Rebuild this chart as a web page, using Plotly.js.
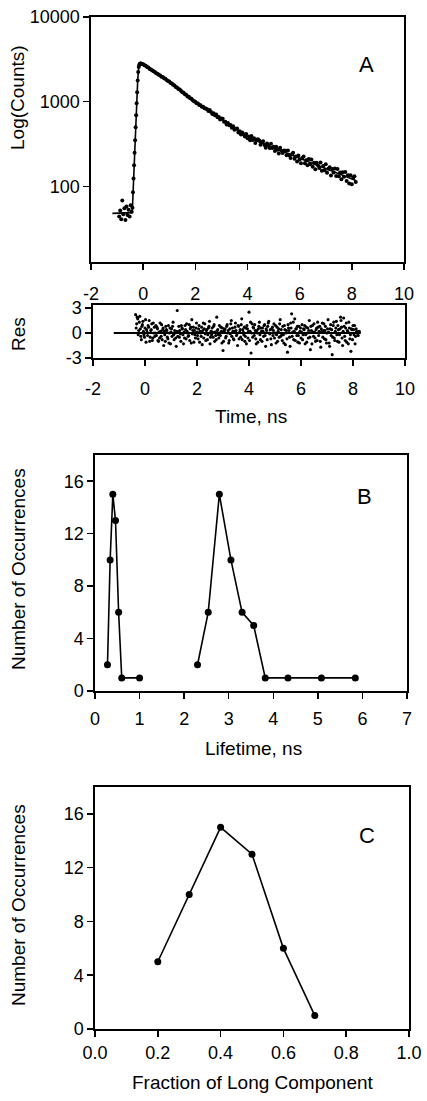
<!DOCTYPE html>
<html><head><meta charset="utf-8">
<script src="https://cdn.plot.ly/plotly-3.0.1.min.js"></script>
<style>html,body{margin:0;padding:0;background:#fff}</style>
</head><body><div id="chart" style="width:427px;height:1101px"></div>
<script>
// ---- Panel A: fluorescence decay (counts vs time, ns) ----
const DECAY_T = [
-0.92,-0.88,-0.84,-0.80,-0.76,-0.72,-0.68,-0.64,-0.60,-0.56,-0.52,-0.48,-0.44,
-0.41,-0.39,-0.37,-0.35,-0.33,-0.31,-0.29,-0.27,-0.25,-0.23,-0.21,-0.19,-0.17,-0.15,-0.13,-0.11,-0.09,-0.07,
-0.05,0,0.05,0.1,0.15,0.2,0.25,0.3,0.35,0.4,
0.45,0.5,0.55,0.6,0.65,0.7,0.75,0.8,0.85,0.9,
0.95,1,1.05,1.1,1.15,1.2,1.25,1.3,1.35,1.4,
1.45,1.5,1.55,1.6,1.65,1.7,1.75,1.8,1.85,1.9,
1.95,2,2.05,2.1,2.15,2.2,2.25,2.3,2.35,2.4,
2.45,2.5,2.55,2.6,2.65,2.7,2.75,2.8,2.85,2.9,
2.95,3,3.05,3.1,3.15,3.2,3.25,3.3,3.35,3.4,
3.45,3.5,3.55,3.6,3.65,3.7,3.75,3.8,3.85,3.9,
3.95,4,4.05,4.1,4.15,4.2,4.25,4.3,4.35,4.4,
4.45,4.5,4.55,4.6,4.65,4.7,4.75,4.8,4.85,4.9,
4.95,5,5.05,5.1,5.15,5.2,5.25,5.3,5.35,5.4,
5.45,5.5,5.55,5.6,5.65,5.7,5.75,5.8,5.85,5.9,
5.95,6,6.05,6.1,6.15,6.2,6.25,6.3,6.35,6.4,
6.45,6.5,6.55,6.6,6.65,6.7,6.75,6.8,6.85,6.9,
6.95,7,7.05,7.1,7.15,7.2,7.25,7.3,7.35,7.4,
7.45,7.5,7.55,7.6,7.65,7.7,7.75,7.8,7.85,7.9,
7.95,8,8.05,8.1,8.15];
const DECAY_COUNTS = [
44,52,41,68,47,55,40,58,46,53,44,60,50,
56,85,124,178,250,350,500,690,960,1290,1780,2240,2570,2720,2790,2820,2830,2810,
2795,2770,2700,2650,2575,2535,2440,2405,2330,2295,
2240,2170,2140,2075,2045,1975,1950,1890,1860,1800,
1755,1730,1665,1640,1580,1555,1490,1470,1410,1390,
1350,1290,1275,1225,1210,1155,1140,1095,1080,1040,
1010,1000,960,955,915,910,870,870,835,832,
816,774,795,754,714,732,693,705,655,659,
617,632,629,578,581,538,561,527,529,491,
513,466,475,483,432,449,409,434,412,387,
414,370,387,351,393,354,369,326,355,360,
348,310,332,342,307,286,321,302,283,319,
283,294,261,294,270,245,286,264,247,266,
264,233,266,233,216,240,249,212,226,197,
231,207,187,217,226,188,203,178,210,183,
208,171,190,159,190,178,165,191,153,174,
155,183,145,162,168,134,160,146,163,133,
160,132,146,121,147,130,148,116,135,108,
135,106,126,132,113];
const FIT_T = [-1.18,-0.43,-0.41,-0.37,-0.33,-0.29,-0.25,-0.21,-0.17,-0.13,-0.09,0,0.5,1,1.5,2,2.5,3,3.5,4,4.5,5,5.5,6,6.5,7,7.5,8,8.15];
const FIT_COUNTS = [48,49,56,124,250,500,960,1780,2570,2790,2830,2760,2180,1720,1300,990,790,620,480,385,330,285,245,213,186,163,142,121,117];
const COUNT_TICKS = [100,1000,10000];
const COUNT_TICK_LABELS = ['100','1000','10000'];
const TIME_TICKS = [-2,0,2,4,6,8,10];
const TIME_TICK_LABELS = ['-2','0','2','4','6','8','10'];

// ---- Residuals (two interleaved channel sets) ----
const RES_T = [
-0.36,-0.32,-0.28,-0.24,-0.2,-0.16,-0.12,-0.08,-0.04,0,0.04,0.08,0.12,0.16,0.2,0.24,0.28,0.32,0.36,0.4,
0.44,0.48,0.52,0.56,0.6,0.64,0.68,0.72,0.76,0.8,0.84,0.88,0.92,0.96,1,1.04,1.08,1.12,1.16,1.2,
1.24,1.28,1.32,1.36,1.4,1.44,1.48,1.52,1.56,1.6,1.64,1.68,1.72,1.76,1.8,1.84,1.88,1.92,1.96,2,
2.04,2.08,2.12,2.16,2.2,2.24,2.28,2.32,2.36,2.4,2.44,2.48,2.52,2.56,2.6,2.64,2.68,2.72,2.76,2.8,
2.84,2.88,2.92,2.96,3,3.04,3.08,3.12,3.16,3.2,3.24,3.28,3.32,3.36,3.4,3.44,3.48,3.52,3.56,3.6,
3.64,3.68,3.72,3.76,3.8,3.84,3.88,3.92,3.96,4,4.04,4.08,4.12,4.16,4.2,4.24,4.28,4.32,4.36,4.4,
4.44,4.48,4.52,4.56,4.6,4.64,4.68,4.72,4.76,4.8,4.84,4.88,4.92,4.96,5,5.04,5.08,5.12,5.16,5.2,
5.24,5.28,5.32,5.36,5.4,5.44,5.48,5.52,5.56,5.6,5.64,5.68,5.72,5.76,5.8,5.84,5.88,5.92,5.96,6,
6.04,6.08,6.12,6.16,6.2,6.24,6.28,6.32,6.36,6.4,6.44,6.48,6.52,6.56,6.6,6.64,6.68,6.72,6.76,6.8,
6.84,6.88,6.92,6.96,7,7.04,7.08,7.12,7.16,7.2,7.24,7.28,7.32,7.36,7.4,7.44,7.48,7.52,7.56,7.6,
7.64,7.68,7.72,7.76,7.8,7.84,7.88,7.92,7.96,8,8.04,8.08,8.12,8.16,8.2,8.24];
const RESIDUALS = [
2.2,1.1,1.7,0.3,2.0,-0.4,0.8,1.4,-0.2,0.6,-1.1,0.1,0.9,1.5,-0.5,0.4,-0.9,1.2,0.7,0.0,
-0.3,0.5,-1.0,-0.6,0.2,1.0,0.4,-1.5,-0.2,0.8,0.3,-0.7,-1.2,0.6,0.1,-0.4,1.3,-0.8,0.0,-1.6,
2.7,0.2,-0.5,-0.1,0.9,0.5,-1.3,-0.6,0.4,1.1,0.0,-0.3,-0.9,0.7,1.6,0.3,-1.1,-0.2,0.6,0.1,
-0.7,0.9,0.2,-0.4,-1.4,1.2,0.5,-0.1,0.3,-0.8,0.6,1.4,-0.5,-0.2,0.1,0.8,-1.0,-0.3,1.9,0.4,
-0.6,0.0,0.7,-1.2,-2.1,0.2,0.5,-0.4,1.0,0.3,-0.9,-0.1,1.5,0.6,-0.7,0.2,1.2,-0.3,-1.5,0.8,
0.1,-0.5,1.7,0.4,-0.2,-1.0,0.6,0.9,-0.6,2.5,0.2,-2.4,1.1,0.7,-0.3,0.3,-1.3,0.0,0.5,1.3,
-0.8,0.2,0.6,-0.4,1.0,-1.6,0.3,0.8,1.4,-0.1,-0.7,0.5,-0.3,1.1,0.0,-1.2,0.7,0.2,-0.5,1.6,
0.4,-0.9,-0.2,0.9,-1.4,0.3,-2.3,0.6,-0.5,1.2,2.3,0.1,-0.8,1.7,0.5,-0.3,-1.1,0.8,0.2,-0.6,
1.0,-0.2,0.4,-1.3,0.7,0.0,-0.6,1.5,-2.0,0.3,0.9,-0.4,0.1,-1.0,0.6,1.3,-0.3,0.8,-1.7,0.2,
-0.5,1.1,0.3,-0.8,0.0,1.6,-1.2,0.5,-0.3,-2.6,0.9,-0.6,0.2,1.4,-1.0,0.4,-0.2,1.9,0.7,-1.5,
1.8,-0.4,0.6,-1.1,0.2,1.3,-0.7,-2.2,0.4,0.9,-0.2,-1.3,0.5,0.1,-0.3,0.2];
const RES_T2 = [
-0.34,-0.3,-0.26,-0.22,-0.18,-0.14,-0.1,-0.06,-0.02,0.02,0.06,0.1,0.14,0.18,0.22,0.26,0.3,0.34,0.38,0.42,
0.46,0.5,0.54,0.58,0.62,0.66,0.7,0.74,0.78,0.82,0.86,0.9,0.94,0.98,1.02,1.06,1.1,1.14,1.18,1.22,
1.26,1.3,1.34,1.38,1.42,1.46,1.5,1.54,1.58,1.62,1.66,1.7,1.74,1.78,1.82,1.86,1.9,1.94,1.98,2.02,
2.06,2.1,2.14,2.18,2.22,2.26,2.3,2.34,2.38,2.42,2.46,2.5,2.54,2.58,2.62,2.66,2.7,2.74,2.78,2.82,
2.86,2.9,2.94,2.98,3.02,3.06,3.1,3.14,3.18,3.22,3.26,3.3,3.34,3.38,3.42,3.46,3.5,3.54,3.58,3.62,
3.66,3.7,3.74,3.78,3.82,3.86,3.9,3.94,3.98,4.02,4.06,4.1,4.14,4.18,4.22,4.26,4.3,4.34,4.38,4.42,
4.46,4.5,4.54,4.58,4.62,4.66,4.7,4.74,4.78,4.82,4.86,4.9,4.94,4.98,5.02,5.06,5.1,5.14,5.18,5.22,
5.26,5.3,5.34,5.38,5.42,5.46,5.5,5.54,5.58,5.62,5.66,5.7,5.74,5.78,5.82,5.86,5.9,5.94,5.98,6.02,
6.06,6.1,6.14,6.18,6.22,6.26,6.3,6.34,6.38,6.42,6.46,6.5,6.54,6.58,6.62,6.66,6.7,6.74,6.78,6.82,
6.86,6.9,6.94,6.98,7.02,7.06,7.1,7.14,7.18,7.22,7.26,7.3,7.34,7.38,7.42,7.46,7.5,7.54,7.58,7.62,
7.66,7.7,7.74,7.78,7.82,7.86,7.9,7.94,7.98,8.02,8.06,8.1,8.14,8.18];
const RESIDUALS2 = [
0.6,1.9,-0.2,1.3,0.5,-0.8,1.0,0.2,-0.5,1.6,0.4,-0.3,0.7,-1.0,0.3,1.1,-0.6,0.0,-0.4,0.9,
0.7,-0.9,0.1,1.2,-0.4,-0.8,0.6,0.2,-1.0,0.4,-0.5,0.9,0.0,-1.3,0.5,0.8,-0.2,0.3,-0.6,0.2,
-0.4,0.8,0.3,-1.0,0.6,-0.2,0.1,0.9,-0.7,0.2,-0.4,1.0,0.5,-1.2,-0.1,0.7,0.3,-0.6,1.2,-0.3,
0.5,-1.1,0.0,0.7,0.3,-0.6,1.1,-0.9,0.4,-0.2,0.8,-1.3,0.2,0.6,-0.5,1.0,0.1,-0.8,0.3,-0.2,
0.9,-0.3,0.2,0.6,-1.0,0.4,-0.6,0.8,0.0,-1.2,0.5,1.1,-0.4,0.2,-0.8,0.7,0.3,-0.1,0.9,-0.7,
0.4,1.0,-0.8,0.1,0.7,-0.4,-1.3,0.5,0.2,-0.9,1.3,0.0,-0.5,0.6,1.0,-0.7,0.3,-1.1,0.8,-0.2,
0.6,-1.0,0.2,0.9,-0.3,0.5,-0.8,1.2,0.0,0.4,-1.4,0.7,0.3,-0.6,0.9,-0.2,-1.0,0.5,1.1,-0.4,
-0.2,0.8,-1.2,0.4,0.0,-0.7,1.0,0.3,-1.6,0.6,-0.4,1.3,0.2,-0.9,0.5,0.8,-0.3,-1.2,0.6,0.1,
-0.8,0.5,0.9,-0.2,-1.1,0.6,0.3,-0.5,0.8,-1.3,0.1,1.1,-0.6,0.4,-0.9,0.7,0.2,-1.0,0.5,1.2,
0.3,-0.7,0.8,-1.2,0.5,0.1,-1.6,1.0,0.4,-0.5,1.3,-0.9,0.6,-0.2,0.9,-1.1,0.5,1.5,-0.6,0.2,
0.8,-0.9,1.2,0.3,-1.3,0.6,-0.2,0.5,-0.8,0.4,0.9,-0.4,0.2,-0.1];
const RES_LINE_T = [-1.2, 8.3];
const RES_LINE_Y = [0, 0];
const RES_TICKS = [-3,0,3];
const RES_TICK_LABELS = ['-3','0','3'];

// ---- Panel B: lifetime distribution ----
const LIFETIME_SHORT_NS = [0.28,0.34,0.40,0.46,0.53,0.60,1.0];
const LIFETIME_SHORT_OCC = [2,10,15,13,6,1,1];
const LIFETIME_LONG_NS = [2.30,2.54,2.79,3.05,3.30,3.56,3.82,4.33,5.08,5.84];
const LIFETIME_LONG_OCC = [2,6,15,10,6,5,1,1,1,1];
const LIFETIME_TICKS = [0,1,2,3,4,5,6,7];

// ---- Panel C: fraction of long component ----
const FRACTION_LONG = [0.2,0.3,0.4,0.5,0.6,0.7];
const FRACTION_OCC = [5,10,15,13,6,1];
const FRACTION_TICKS = [0,0.2,0.4,0.6,0.8,1.0];
const FRACTION_TICK_LABELS = ['0.0','0.2','0.4','0.6','0.8','1.0'];
const OCC_TICKS = [0,4,8,12,16];

const W = 427, H = 1101;
const px = x => x / W;
const py = y => 1 - y / H;
const FONT = 'Liberation Sans, Arial, sans-serif';

function ax(extra) {
  return Object.assign({
    showline: true, linecolor: '#000', linewidth: 1.7, mirror: true,
    ticks: 'outside', ticklen: 6, tickwidth: 1.5, tickcolor: '#000',
    showgrid: false, zeroline: false, fixedrange: true,
    tickfont: {family: FONT, size: 18, color: '#000'}
  }, extra);
}

const traces = [
  {x: FIT_T, y: FIT_COUNTS, xaxis: 'x', yaxis: 'y', mode: 'lines', line: {color: '#000', width: 1.6}},
  {x: DECAY_T, y: DECAY_COUNTS, xaxis: 'x', yaxis: 'y', mode: 'markers', marker: {color: '#000', size: 4}},
  {x: RES_LINE_T, y: RES_LINE_Y, xaxis: 'x2', yaxis: 'y2', mode: 'lines', line: {color: '#000', width: 2}},
  {x: RES_T, y: RESIDUALS, xaxis: 'x2', yaxis: 'y2', mode: 'markers', marker: {color: '#000', size: 3.1}},
  {x: RES_T2, y: RESIDUALS2, xaxis: 'x2', yaxis: 'y2', mode: 'markers', marker: {color: '#000', size: 3.1}},
  {x: LIFETIME_SHORT_NS, y: LIFETIME_SHORT_OCC, xaxis: 'x3', yaxis: 'y3', mode: 'lines+markers', line: {color: '#000', width: 1.6}, marker: {color: '#000', size: 7}},
  {x: LIFETIME_LONG_NS, y: LIFETIME_LONG_OCC, xaxis: 'x3', yaxis: 'y3', mode: 'lines+markers', line: {color: '#000', width: 1.6}, marker: {color: '#000', size: 7}},
  {x: FRACTION_LONG, y: FRACTION_OCC, xaxis: 'x4', yaxis: 'y4', mode: 'lines+markers', line: {color: '#000', width: 1.6}, marker: {color: '#000', size: 7}}
];

function ann(text, x, y, size, angle) {
  return {text: text, xref: 'paper', yref: 'paper', x: px(x), y: py(y), xanchor: 'center', yanchor: 'middle',
          showarrow: false, textangle: angle || 0, font: {family: FONT, size: size, color: '#000'}};
}

const layout = {
  width: W, height: H, margin: {l: 0, r: 0, t: 0, b: 0},
  paper_bgcolor: '#fff', plot_bgcolor: '#fff', showlegend: false,
  font: {family: FONT, color: '#000'},
  xaxis: ax({domain: [px(91), px(404)], range: [-2, 10], tickvals: TIME_TICKS, ticktext: TIME_TICK_LABELS, anchor: 'y', ticklabelstandoff: 9}),
  yaxis: ax({domain: [py(262), py(17)], type: 'log', range: [1.107, 4], tickvals: COUNT_TICKS, ticktext: COUNT_TICK_LABELS, anchor: 'x'}),
  xaxis2: ax({domain: [px(93), px(405)], range: [-2, 10], tickvals: TIME_TICKS, ticktext: TIME_TICK_LABELS, anchor: 'y2', ticklabelstandoff: 8}),
  yaxis2: ax({domain: [py(358), py(305)], range: [-3, 3.36], tickvals: RES_TICKS, ticktext: RES_TICK_LABELS, anchor: 'x2'}),
  xaxis3: ax({domain: [px(95), px(407)], range: [0, 7], tickvals: LIFETIME_TICKS, anchor: 'y3', ticklabelstandoff: 5}),
  yaxis3: ax({domain: [py(691), py(455)], range: [0, 18], tickvals: OCC_TICKS, anchor: 'x3'}),
  xaxis4: ax({domain: [px(95), px(409)], range: [0, 1], tickvals: FRACTION_TICKS, ticktext: FRACTION_TICK_LABELS, anchor: 'y4', ticklabelstandoff: 1}),
  yaxis4: ax({domain: [py(1029), py(787)], range: [0, 18], tickvals: OCC_TICKS, anchor: 'x4'}),
  annotations: [
    ann('Log(Counts)', 18, 98, 19, -90),
    ann('Res', 18, 334, 19, -90),
    ann('Time, ns', 251, 417, 19),
    ann('Number of Occurrences', 18, 569, 19, -90),
    ann('Lifetime, ns', 253, 748, 19),
    ann('Number of Occurrences', 18, 905, 19, -90),
    ann('Fraction of Long Component', 253, 1082, 19),
    ann('A', 366, 65, 22),
    ann('B', 364, 496, 22),
    ann('C', 367, 835, 22)
  ]
};

Plotly.newPlot('chart', traces, layout, {displayModeBar: false, staticPlot: true, responsive: false});
</script>
</body></html>
